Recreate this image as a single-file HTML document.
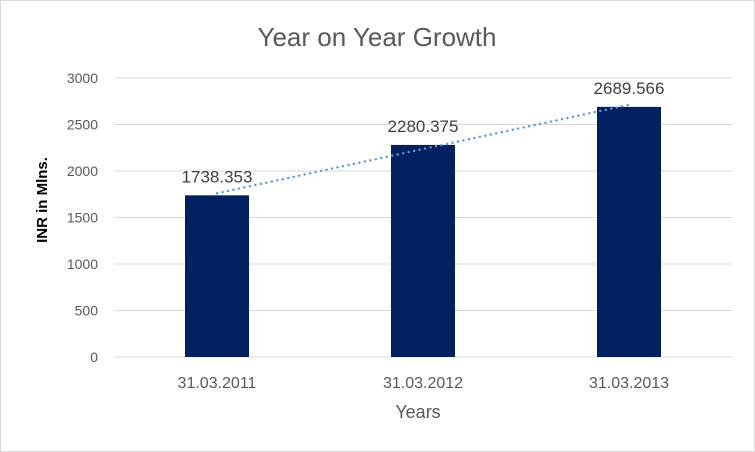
<!DOCTYPE html>
<html><head><meta charset="utf-8"><style>
html,body{margin:0;padding:0;background:#fff}
svg{display:block;font-family:"Liberation Sans",Arial,sans-serif}
</style></head><body>
<svg id="chart" width="755" height="452" xmlns="http://www.w3.org/2000/svg">
<rect x="0.5" y="0.5" width="754" height="451" fill="#fff" stroke="#d9d9d9"/>
<text x="377" y="46" text-anchor="middle" font-size="26" fill="#595959">Year on Year Growth</text>
<g id="grid"></g><g id="bars"></g><g id="labels"></g><g id="trend"></g>
<text x="418" y="418" text-anchor="middle" font-size="18" fill="#595959">Years</text>
<text transform="translate(47,200) rotate(-90)" text-anchor="middle" font-size="15" font-weight="bold" fill="#000">INR in Mlns.</text>
</svg>
<script>
const categories=["31.03.2011","31.03.2012","31.03.2013"];
const values=[1738.353,2280.375,2689.566];
const valueLabels=["1738.353","2280.375","2689.566"];
const yTicks=[0,500,1000,1500,2000,2500,3000];
const NS="http://www.w3.org/2000/svg";
const L=114,R=732,T=78,B=357,yMax=3000;
const y=v=>B-(v/yMax)*(B-T);
const band=(R-L)/categories.length;
const xc=i=>L+band*(i+0.5);
function mk(t,a,p){const e=document.createElementNS(NS,t);for(const k in a)e.setAttribute(k,a[k]);p.appendChild(e);return e;}
const g=document.getElementById('grid'),b=document.getElementById('bars'),lb=document.getElementById('labels'),tr=document.getElementById('trend');
yTicks.forEach(v=>{
 const l=mk('line',{x1:L,x2:R,y1:y(v),y2:y(v),stroke:'#d9d9d9','stroke-width':1},g);
 
 
 const t=mk('text',{x:98,y:y(v)+5,'text-anchor':'end','font-size':14,fill:'#595959'},g);
 t.textContent=v;
 
 
});
const bw=64;
categories.forEach((c,i)=>{
 const r=mk('rect',{x:xc(i)-bw/2,y:y(values[i]),width:bw,height:B-y(values[i]),fill:'#002060'},b);
 
 
 const t=mk('text',{x:xc(i),y:y(values[i])-13,'text-anchor':'middle','font-size':17,fill:'#404040'},lb);
 t.textContent=valueLabels[i];
 
 
 const x=mk('text',{x:xc(i),y:388,'text-anchor':'middle','font-size':16,fill:'#595959'},lb);
 x.textContent=c;
 
 
});
const n=values.length,mx=(n-1)/2,my=values.reduce((a,c)=>a+c,0)/n;
let sxy=0,sxx=0;values.forEach((v,i)=>{sxy+=(i-mx)*(v-my);sxx+=(i-mx)*(i-mx);});
const slope=sxy/sxx,ic=my-slope*mx;
const tl=mk('line',{x1:xc(0),y1:y(ic),x2:xc(n-1),y2:y(ic+slope*(n-1)),stroke:'#5b9bd5','stroke-width':2.4,'stroke-dasharray':'0.1 5.5','stroke-linecap':'round'},tr);


</script>
</body></html>
